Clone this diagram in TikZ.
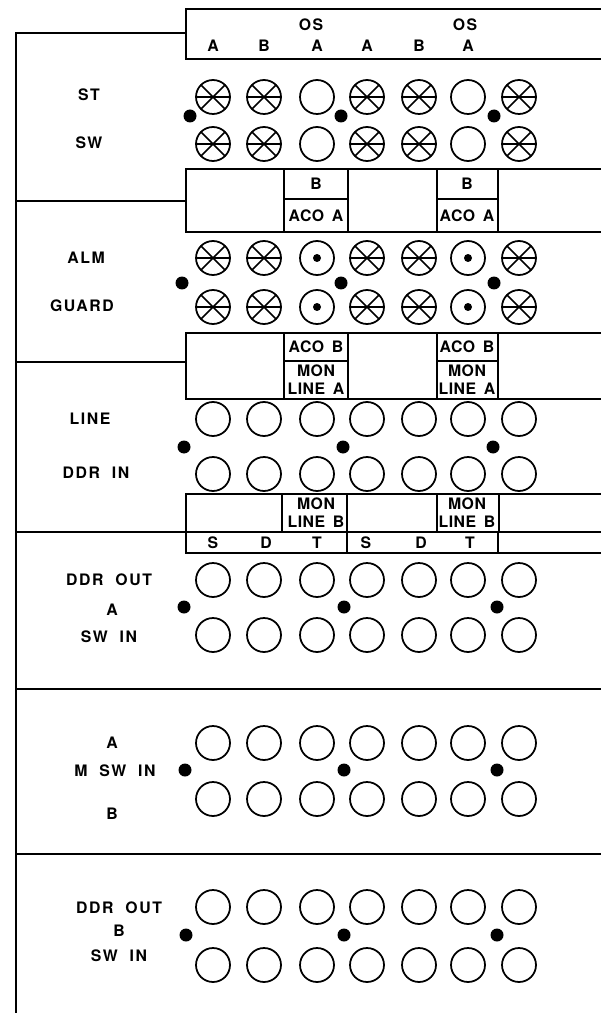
\documentclass[tikz,border=0pt]{standalone}
\usepackage{fontspec}
\newfontfamily\panelfont{TeX Gyre Heros}[LetterSpace=10,WordSpace=2]
\newfontfamily\cellfont{TeX Gyre Heros}[LetterSpace=3,WordSpace=1.6]

\begin{document}
\begin{tikzpicture}[x=0.02cm, y=-0.02cm, line width=1pt,
    jack/.style={circle, draw, line width=1pt, minimum size=0.68cm, inner sep=0pt},
    lampx/.style={jack, path picture={
        \draw[line width=0.9pt]
          (path picture bounding box.north west) -- (path picture bounding box.south east)
          (path picture bounding box.north east) -- (path picture bounding box.south west)
          (path picture bounding box.west) -- (path picture bounding box.east);}},
    keydot/.style={jack, path picture={
        \fill (path picture bounding box.center) circle (0.08cm);}},
    bolt/.style={circle, fill, minimum size=0.26cm, inner sep=0pt},
    lbl/.style={font=\panelfont\bfseries\fontsize{9}{10}\selectfont, inner sep=0pt},
    cell/.style={font=\cellfont\bfseries\fontsize{9}{10.4}\selectfont, inner sep=0pt, align=center}]
        \useasboundingbox (0,0) rectangle (601,1013);

        % Panel outline
        \draw (16,1013) -- (16,33) -- (186,33);
        \draw (601,9) -- (186,9) -- (186,59) -- (601,59);
        \draw (16,201) -- (186,201);
        \draw (16,362) -- (186,362);
        \draw (16,689) -- (601,689);
        \draw (16,854) -- (601,854);

        % Designation strips
        \draw (601,169) -- (186,169) -- (186,232) -- (601,232);
        \draw (284,169) rectangle (348,232) (284,199) -- (348,199);
        \draw (437,169) rectangle (498,232) (437,199) -- (498,199);

        \draw (601,333) -- (186,333) -- (186,399) -- (601,399);
        \draw (284,333) rectangle (348,399) (284,361) -- (348,361);
        \draw (437,333) rectangle (498,399) (437,361) -- (498,361);

        \draw (601,494) -- (186,494) -- (186,553) -- (601,553);
        \draw (16,532) -- (601,532);
        \draw (282,494) rectangle (347,532);
        \draw (437,494) rectangle (499,532);
        \draw (347,532) -- (347,553) (498,532) -- (498,553);

        % Header
        \node[lbl] (os1) at (311,25) {OS};
        \node[lbl] (os2) at (465,25) {OS};
        \foreach \x/\t [count=\c] in {213/A,264/B,317/A,367/A,419/B,468/A}
            \node[lbl] (hd\c) at (\x,46) {\t};
        \foreach \x/\t [count=\c] in {213/S,266/D,317/T,366/S,421/D,470/T}
            \node[lbl] (sdt\c) at (\x,543) {\t};

        % Strip cells
        \foreach \x [count=\c] in {316,467} {
            \node[cell] (b\c) at (\x,184) {B};
            \node[cell] (acoa\c) at (\x,216) {ACO A};
            \node[cell] (acob\c) at (\x,347) {ACO B};
            \node[cell] (mona\c) at (\x,380) {MON\\LINE A};
            \node[cell] (monb\c) at (\x,513) {MON\\LINE B};
        }

        % Row labels
        \node[lbl] (st) at (89,95) {ST};
        \node[lbl] (sw) at (89,143) {SW};
        \node[lbl] (alm) at (86,258) {ALM};
        \node[lbl] (guard) at (82,306) {GUARD};
        \node[lbl] (line) at (90,419) {LINE};
        \node[lbl] (ddrin) at (96,473) {DDR IN};
        \node[lbl] (ddrouta) at (109,580) {DDR OUT};
        \node[lbl] (outa) at (112,610) {A};
        \node[lbl] (swina) at (109,637) {SW IN};
        \node[lbl] (msa) at (112,743) {A};
        \node[lbl] (mswin) at (115,771) {M SW IN};
        \node[lbl] (msb) at (112,814) {B};
        \node[lbl] (ddroutb) at (119,908) {DDR OUT};
        \node[lbl] (outb) at (119,931) {B};
        \node[lbl] (swinb) at (119,956) {SW IN};

        % Lamps and jacks
        \foreach \y [count=\r] in {97,144}
            \foreach \x/\s [count=\c] in {213/lampx,264/lampx,317/jack,367/lampx,419/lampx,468/jack,519/lampx}
                \node[\s] (st\r-\c) at (\x,\y) {};
        \foreach \y [count=\r] in {258,307}
            \foreach \x/\s [count=\c] in {213/lampx,264/lampx,317/keydot,367/lampx,419/lampx,468/keydot,519/lampx}
                \node[\s] (alm\r-\c) at (\x,\y) {};
        \foreach \y [count=\r] in {419,474,580,635,743,799,907,965}
            \foreach \x [count=\c] in {213,264,317,367,419,468,519}
                \node[jack] (jk\r-\c) at (\x,\y) {};

        % Mounting screws
        \foreach \y/\xa/\xb/\xc [count=\r] in {116/190/341/494,283/182/341/494,447/184/343/493,
                                               607/184/344/497,770/185/344/497,935/186/344/497} {
            \node[bolt] (bolt\r a) at (\xa,\y) {};
            \node[bolt] (bolt\r b) at (\xb,\y) {};
            \node[bolt] (bolt\r c) at (\xc,\y) {};
        }
    \end{tikzpicture}
\end{document}
